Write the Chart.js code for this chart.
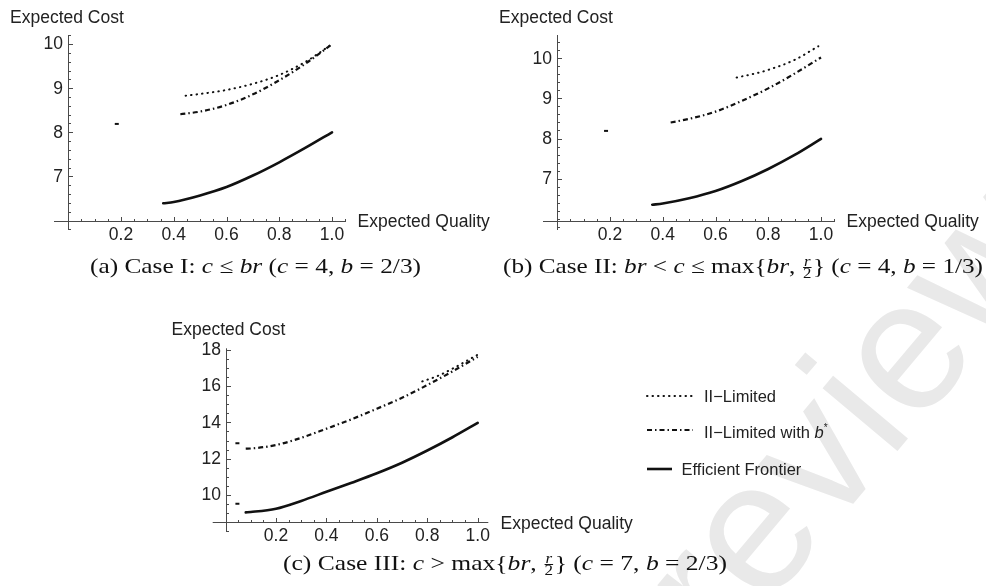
<!DOCTYPE html>
<html>
<head>
<meta charset="utf-8">
<script src="https://cdn.jsdelivr.net/npm/chart.js@4.4.1/dist/chart.umd.min.js"></script>
<style>
  body { margin: 0; background: #fff; }
  #page { position: relative; width: 986px; height: 586px; overflow: hidden; background: #fff; }
  .wm { position: absolute; left: 0; top: 0; }
  canvas { position: absolute; }
  .lbl { position: absolute; font-family: "Liberation Sans", Arial, sans-serif; font-size: 17.5px; line-height: 20px; color: #222; white-space: nowrap; }
  .leg { position: absolute; font-family: "Liberation Sans", Arial, sans-serif; font-size: 16.5px; line-height: 20px; color: #222; white-space: nowrap; }
  .cap { position: absolute; font-family: "Liberation Serif", serif; font-size: 21px; line-height: 24px; color: #111; white-space: nowrap; transform-origin: 0 50%; }
  .frac { display: inline-flex; flex-direction: column; vertical-align: 7px; font-size: 14px; line-height: 11px; text-align: center; margin: 0 1px; }
  .frac span:first-child { border-bottom: 1px solid #111; padding: 0 1px; }
</style>
</head>
<body>
<div id="page">
  <svg class="wm" width="986" height="586">
    <text x="645" y="752" transform="rotate(-50 645 752)" font-family="Liberation Sans" font-size="185" fill="#e9e9e9">Preview</text>
  </svg>

  <canvas id="chartA" width="490" height="250" style="left:0;top:0"></canvas>
  <canvas id="chartB" width="496" height="250" style="left:490px;top:0"></canvas>
  <canvas id="chartC" width="470" height="250" style="left:160px;top:310px"></canvas>

  <div class="lbl" style="left:10px;top:6.5px">Expected Cost</div>
  <div class="lbl" style="left:499px;top:6.5px">Expected Cost</div>
  <div class="lbl" style="left:171.5px;top:319px">Expected Cost</div>
  <div class="lbl" style="left:357.5px;top:210.5px">Expected Quality</div>
  <div class="lbl" style="left:846.5px;top:210.5px">Expected Quality</div>
  <div class="lbl" style="left:500.5px;top:513px">Expected Quality</div>

  <svg class="wm" width="986" height="586">
    <line x1="647" y1="396" x2="693" y2="396" stroke="#111" stroke-width="2" stroke-dasharray="0.5 5" stroke-linecap="round"/>
    <line x1="647" y1="430" x2="693" y2="430" stroke="#111" stroke-width="2.2" stroke-dasharray="5 3 1.5 3"/>
    <line x1="647" y1="469" x2="672" y2="469" stroke="#111" stroke-width="2.6"/>
  </svg>
  <div class="leg" style="left:704px;top:386px">II&minus;Limited</div>
  <div class="leg" style="left:704px;top:418.3px">II&minus;Limited with <i>b</i><sup style="font-size:10px">*</sup></div>
  <div class="leg" style="left:681.5px;top:458.6px">Efficient Frontier</div>

  <div class="cap" data-x="90" data-w="331" style="top:254px">(a) Case I: <i>c</i> &le; <i>br</i> (<i>c</i> = 4, <i>b</i> = 2/3)</div>
  <div class="cap" data-x="503" data-w="480" style="top:254px">(b) Case II: <i>br</i> &lt; <i>c</i> &le; max{<i>br</i>, <span class="frac"><span><i>r</i></span><span>2</span></span>} (<i>c</i> = 4, <i>b</i> = 1/3)</div>
  <div class="cap" data-x="283" data-w="444" style="top:551px">(c) Case III: <i>c</i> &gt; max{<i>br</i>, <span class="frac"><span><i>r</i></span><span>2</span></span>} (<i>c</i> = 7, <i>b</i> = 2/3)</div>
</div>

<script>
// tick labels
const xTicks = [0.2, 0.4, 0.6, 0.8, 1.0];
const yTicksA = [7, 8, 9, 10];
const yTicksB = [7, 8, 9, 10];
const yTicksC = [10, 12, 14, 16, 18];

// (a) Case I
const frontierQA = [0.36, 0.40, 0.50, 0.60, 0.70, 0.80, 0.90, 1.00];
const frontierCA = [6.39, 6.42, 6.57, 6.76, 7.02, 7.32, 7.65, 8.00];
const limitedQA = [0.445, 0.50, 0.60, 0.70, 0.80, 0.90, 1.00];
const limitedCA = [8.83, 8.87, 8.96, 9.10, 9.30, 9.60, 10.00];
const bstarQA = [0.425, 0.50, 0.60, 0.70, 0.80, 0.90, 1.00];
const bstarCA = [8.41, 8.47, 8.62, 8.86, 9.18, 9.56, 10.00];
const isoQA = [0.184];
const isoCA = [8.19];

// (b) Case II
const frontierQB = [0.36, 0.40, 0.50, 0.60, 0.70, 0.80, 0.90, 1.00];
const frontierCB = [6.35, 6.38, 6.51, 6.69, 6.94, 7.24, 7.59, 7.99];
const limitedQB = [0.68, 0.75, 0.80, 0.90, 0.99];
const limitedCB = [9.52, 9.62, 9.71, 9.96, 10.30];
const bstarQB = [0.43, 0.50, 0.60, 0.70, 0.80, 0.89, 1.00];
const bstarCB = [8.40, 8.49, 8.67, 8.94, 9.25, 9.58, 10.02];
const isoQB = [0.185];
const isoCB = [8.19];

// (c) Case III
const frontierQC = [0.08, 0.10, 0.20, 0.30, 0.40, 0.50, 0.60, 0.70, 0.80, 0.90, 1.00];
const frontierCC = [9.05, 9.07, 9.25, 9.68, 10.18, 10.68, 11.20, 11.78, 12.45, 13.18, 13.97];
const limitedQC = [0.78, 0.85, 0.90, 1.00];
const limitedCC = [16.25, 16.60, 16.95, 17.72];
const bstarQC = [0.08, 0.10, 0.20, 0.30, 0.40, 0.50, 0.60, 0.70, 0.80, 0.90, 1.00];
const bstarCC = [12.55, 12.56, 12.75, 13.15, 13.65, 14.17, 14.75, 15.35, 16.05, 16.80, 17.60];
const isoQC = [0.047, 0.047];
const isoCC = [12.85, 9.53];

const pts = (xs, ys) => xs.map((x, i) => ({ x: x, y: ys[i] }));

const lineStyles = {
  dotted:  { borderWidth: 2, borderDash: [0.5, 5], borderCapStyle: 'round' },
  dashdot: { borderWidth: 2.2, borderDash: [5, 3, 1.5, 3], borderCapStyle: 'butt' },
  solid:   { borderWidth: 2.6, borderDash: [], borderCapStyle: 'round' }
};

// axes crossing inside the plot, Mathematica style (ticks pointing inward)
const crossAxes = {
  id: 'crossAxes',
  beforeDatasetsDraw(chart, args, o) {
    const { ctx, chartArea: a, scales: { x, y } } = chart;
    const ox = Math.round(x.getPixelForValue(o.originX)) + 0.5;
    const oy = Math.round(y.getPixelForValue(o.originY)) + 0.5;
    ctx.save();
    ctx.strokeStyle = '#4a4a4a';
    ctx.lineWidth = 1;
    ctx.beginPath();
    ctx.moveTo(a.left, oy); ctx.lineTo(a.right, oy);
    ctx.moveTo(ox, a.top); ctx.lineTo(ox, a.bottom);
    for (let v = o.xStep; v <= x.max + 1e-9; v += o.xStep) {
      const px = Math.round(x.getPixelForValue(v)) + 0.5;
      const major = o.xTicks.some(t => Math.abs(t - v) < 1e-6);
      ctx.moveTo(px, oy); ctx.lineTo(px, oy - (major ? 4.5 : 2.5));
    }
    const y0 = Math.ceil(y.min / o.yStep) * o.yStep;
    for (let v = y0; v <= y.max + 1e-9; v += o.yStep) {
      if (Math.abs(v - o.originY) < 1e-6) continue;
      const py = Math.round(y.getPixelForValue(v)) + 0.5;
      const major = o.yTicks.some(t => Math.abs(t - v) < 1e-6);
      ctx.moveTo(ox, py); ctx.lineTo(ox + (major ? 4.5 : 2.5), py);
    }
    ctx.stroke();

    ctx.fillStyle = '#222';
    ctx.font = '17.5px "Liberation Sans", Arial, sans-serif';
    ctx.textAlign = 'center';
    ctx.textBaseline = 'top';
    o.xTicks.forEach(t => ctx.fillText(t.toFixed(1), x.getPixelForValue(t), oy + 4.5));
    ctx.textAlign = 'right';
    ctx.textBaseline = 'middle';
    o.yTicks.forEach(t => ctx.fillText(String(t), ox - 5.5, y.getPixelForValue(t) + 0.5));
    ctx.restore();
  }
};

function makeChart(id, series, iso, xRange, yRange, pad, axes) {
  const datasets = series.map(s => Object.assign({
    data: s.data,
    showLine: true,
    pointRadius: 0,
    borderColor: '#111',
    fill: false,
    cubicInterpolationMode: 'monotone'
  }, lineStyles[s.style]));
  datasets.push({
    data: iso,
    showLine: false,
    pointStyle: 'line',
    pointRadius: 2,
    pointBorderWidth: 2,
    pointBorderColor: '#111',
    pointBackgroundColor: '#111'
  });
  return new Chart(document.getElementById(id), {
    type: 'scatter',
    data: { datasets: datasets },
    options: {
      responsive: false,
      animation: false,
      events: [],
      layout: { padding: pad },
      scales: {
        x: { type: 'linear', display: false, min: xRange[0], max: xRange[1] },
        y: { type: 'linear', display: false, min: yRange[0], max: yRange[1] }
      },
      plugins: {
        legend: { display: false },
        tooltip: { enabled: false },
        crossAxes: axes
      }
    },
    plugins: [crossAxes]
  });
}

makeChart('chartA', [
  { data: pts(limitedQA, limitedCA), style: 'dotted' },
  { data: pts(bstarQA, bstarCA), style: 'dashdot' },
  { data: pts(frontierQA, frontierCA), style: 'solid' }
], pts(isoQA, isoCA), [-0.054, 1.053], [5.785, 10.206],
  { left: 54, right: 144, top: 35, bottom: 20 },
  { originX: 0, originY: 6, xTicks: xTicks, yTicks: yTicksA, xStep: 0.05, yStep: 0.2 });

makeChart('chartB', [
  { data: pts(limitedQB, limitedCB), style: 'dotted' },
  { data: pts(bstarQB, bstarCB), style: 'dashdot' },
  { data: pts(frontierQB, frontierCB), style: 'solid' }
], pts(isoQB, isoCB), [-0.054, 1.053], [5.72, 10.58],
  { left: 53, right: 151, top: 35, bottom: 20 },
  { originX: 0, originY: 5.95, xTicks: xTicks, yTicks: yTicksB, xStep: 0.05, yStep: 0.2 });

makeChart('chartC', [
  { data: pts(limitedQC, limitedCC), style: 'dotted' },
  { data: pts(bstarQC, bstarCC), style: 'dashdot' },
  { data: pts(frontierQC, frontierCC), style: 'solid' }
], pts(isoQC, isoCC), [-0.051, 1.042], [7.97, 18.07],
  { left: 52.7, right: 141.7, top: 38.3, bottom: 28 },
  { originX: 0, originY: 8.5, xTicks: xTicks, yTicks: yTicksC, xStep: 0.05, yStep: 0.5 });

// stretch the captions to the width the LaTeX font takes in the original
document.querySelectorAll('.cap').forEach(el => {
  const w = el.getBoundingClientRect().width;
  el.style.left = el.dataset.x + 'px';
  el.style.transform = 'scaleX(' + (el.dataset.w / w) + ')';
});
</script>
</body>
</html>
